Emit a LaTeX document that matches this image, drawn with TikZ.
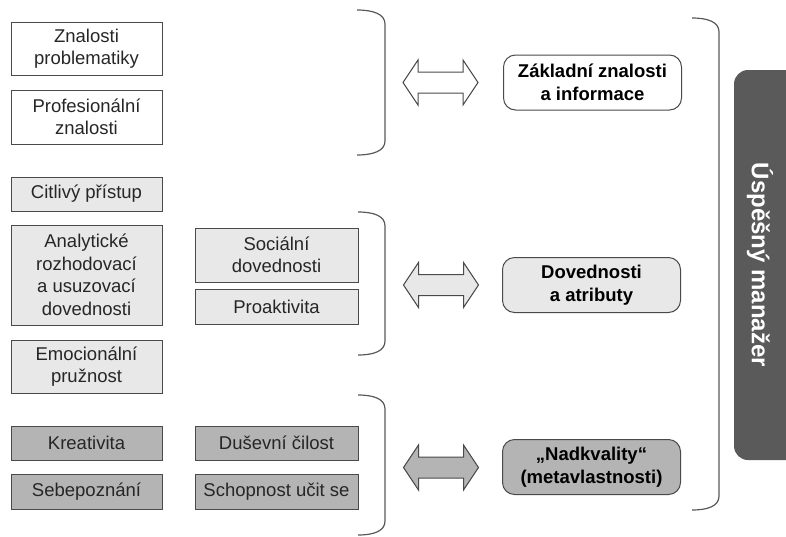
\documentclass[tikz,border=0pt]{standalone}
\usepackage{fontspec}
\setmainfont{Liberation Sans}
\usepackage{xcolor}
\usetikzlibrary{positioning}

\definecolor{svetla}{HTML}{E8E8E8}
\definecolor{stredni}{HTML}{B4B4B4}
\definecolor{tmava}{HTML}{5A5A5A}
\definecolor{okraj}{HTML}{4A4A4A}

\tikzset{
  polozka/.style={draw=okraj, line width=1pt, align=center, inner sep=0pt, text=black!85},
  vlevo/.style={polozka, minimum width=151pt},
  vpravo/.style={polozka, minimum width=163pt},
  souhrn/.style={draw=okraj, line width=1pt, rounded corners=12pt, align=center,
    minimum width=178pt, minimum height=55pt,
    font=\fontsize{18.5}{22.5}\selectfont\bfseries},
  zavorka/.style={gray!70!black, line width=1.2pt},
  sipka/.style={draw=okraj, line width=1pt, line join=miter},
  dvojsipka/.pic={
    \path[pic actions] (-37.5,0) -- (-22.5,-22.5) -- (-22.5,-10.5) -- (22.5,-10.5)
      -- (22.5,-22.5) -- (37.5,0) -- (22.5,22.5) -- (22.5,10.5) -- (-22.5,10.5)
      -- (-22.5,22.5) -- cycle;
  }
}

\begin{document}
\begin{tikzpicture}[x=1pt, y=-1pt, font=\fontsize{18.5}{22.5}\selectfont]
        \useasboundingbox (0,0) rectangle (786,536);

        % znalosti
        \node[vlevo, minimum height=53pt] (zp) at (86.5,48.5) {Znalosti\\problematiky};
        \node[vlevo, minimum height=54pt] (pz) at (86.5,117) {Profesionální\\znalosti};

        % dovednosti
        \node[vlevo, fill=svetla, minimum height=34pt] (cp) at (86.5,194) {Citlivý přístup};
        \node[vlevo, fill=svetla, minimum height=100pt] (arud) at (86.5,275) {Analytické\\rozhodovací\\a usuzovací\\dovednosti};
        \node[vlevo, fill=svetla, minimum height=53pt] (ep) at (86.5,366.5) {Emocionální\\pružnost};
        \node[vpravo, fill=svetla, minimum height=54pt] (sd) at (276.5,255) {Sociální\\dovednosti};
        \node[vpravo, fill=svetla, minimum height=35pt, below=6pt of sd] (pro) {Proaktivita};

        % nadkvality
        \node[vlevo, fill=stredni, minimum height=34pt] (kre) at (86.5,443) {Kreativita};
        \node[vlevo, fill=stredni, minimum height=35pt] (seb) at (86.5,491.5) {Sebepoznání};
        \node[vpravo, fill=stredni, minimum height=34pt] (dc) at (276.5,443) {Duševní čilost};
        \node[vpravo, fill=stredni, minimum height=35pt] (sus) at (276.5,491.5) {Schopnost učit se};

        % zavorky
        \draw[zavorka] (357,10) .. controls (373,10) and (385,14) .. (385,24) -- (385,141)
            .. controls (385,151) and (373,155) .. (357,155);
        \draw[zavorka] (358,212) .. controls (374,212) and (385,216) .. (385,226) -- (385,341)
            .. controls (385,351) and (374,355) .. (358,355);
        \draw[zavorka] (358,395) .. controls (374,395) and (385,399) .. (385,409) -- (385,521)
            .. controls (385,531) and (374,535) .. (358,535);
        \draw[zavorka] (692,18) .. controls (708,18) and (719,22) .. (719,32) -- (719,496)
            .. controls (719,506) and (708,510) .. (692,510);

        % sipky
        \pic[sipka, fill=white] (s1) at (440.5,82.5) {dvojsipka};
        \pic[sipka, fill=svetla] (s2) at (441,285) {dvojsipka};
        \pic[sipka, fill=stredni] (s3) at (441,467.5) {dvojsipka};

        % souhrny
        \node[souhrn, fill=white] (zzi) at (592.5,82.5) {Základní znalosti\\a informace};
        \node[souhrn, fill=svetla] (daa) at (591.5,285) {Dovednosti\\a atributy};
        \node[souhrn, fill=stredni] (nad) at (591.5,467) {„Nadkvality“\\(metavlastnosti)};

        % uspesny manazer
        \fill[tmava, rounded corners=14pt] (734,70) rectangle (800,460);
        \node[rotate=-90, text=white, font=\fontsize{24}{28}\selectfont\bfseries] (um) at (760,265) {Úspěšný manažer};
    \end{tikzpicture}
\end{document}
